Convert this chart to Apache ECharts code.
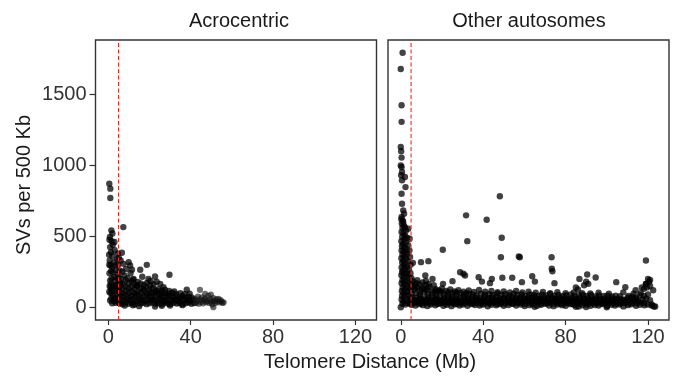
<!DOCTYPE html>
<html>
<head>
<meta charset="utf-8">
<script src="https://cdn.jsdelivr.net/npm/echarts@6/dist/echarts.min.js"></script>
<style>html,body{margin:0;padding:0;background:#fff}#c{width:674px;height:377px}</style>
</head>
<body>
<div id="c"></div>
<script>
// ---------- data ----------
const panelTitles = ["Acrocentric", "Other autosomes"];
const xTicks = [0, 40, 80, 120];
const yTicks = [0, 500, 1000, 1500];
const cutoffMb = 5;

// Acrocentric: [telomere distance (Mb), SVs per 500 Kb]
const acroStreak = [[0.5,871],[1.0,836],[1.0,770],[1.5,542],[0.8,495],[0.6,476],[1.6,466],[2.2,440],[0.9,424],[1.3,388],[3.1,402],[0.4,370],[2.0,362],[4.6,380],[0.7,330],[2.7,318],[1.1,294],[1.9,282],[0.5,300],[3.4,296],[4.3,340],[1.4,255],[2.3,246],[0.6,240],[3.7,262],[4.8,300],[2.9,214],[1.6,204],[0.9,188],[3.3,190],[4.5,230],[1.3,165],[2.4,150],[0.7,150],[3.7,158],[4.9,190],[1.7,124],[2.9,112],[1.1,100],[4.0,120],[2.2,84],[0.5,110],[1.5,64],[3.1,66],[4.4,82],[2.6,44],[1.9,28],[3.6,32],[4.8,46],[0.9,48],[4.2,150],[5.2,120],[5.5,260],[5.0,210],[5.8,160],[2.0,520],[3.0,460],[1.2,140],[5.1,350],[4.9,60],[5.3,30]];
const acroCloud = [[5.5,28],[6.9,22],[8.4,33],[9.8,25],[11.3,30],[12.8,20],[14.2,34],[15.7,26],[17.1,31],[18.6,22],[20.0,29],[21.5,35],[23.0,24],[24.4,30],[25.9,21],[27.3,33],[28.8,27],[30.2,23],[31.7,32],[33.2,26],[34.6,30],[36.1,22],[37.5,28],[39.0,33],[40.4,25],[41.8,30],
[6.2,52],[7.6,47],[9.1,58],[10.5,50],[12.0,55],[13.5,46],[14.9,60],[16.4,51],[17.8,45],[19.3,57],[20.7,49],[22.2,54],[23.7,46],[25.1,59],[26.6,50],[28.0,44],[29.5,56],[31.0,48],[32.4,53],[33.9,45],[35.3,58],[36.8,49],[38.2,52],[39.7,46],[41.1,55],
[5.4,80],[6.9,74],[8.3,85],[9.8,72],[11.2,82],[12.7,76],[14.1,88],[15.6,70],[17.1,79],[18.5,84],[20.0,73],[21.4,81],[22.9,75],[24.4,86],[25.8,71],[27.3,78],[28.7,74],[30.2,82],[31.6,70],[33.1,77],[34.6,72],[36.0,80],[37.5,68],[39.0,75],[40.5,70],
[5.8,108],[7.2,100],[8.7,115],[10.1,104],[11.6,112],[13.1,98],[14.5,110],[16.0,102],[17.4,116],[18.9,97],[20.4,106],[21.8,100],[23.3,112],[24.8,96],[26.2,104],[27.7,98],[29.2,95],[31.0,102],[33.0,94],[35.0,99],[37.0,92],[39.5,96],
[5.3,140],[6.8,132],[8.2,148],[9.7,135],[11.1,145],[12.6,130],[14.0,150],[15.5,136],[17.0,128],[18.4,142],[19.9,125],[21.4,134],[22.9,120],[24.3,128],[25.8,118],[27.5,124],[29.5,115],[32.0,112],
[5.6,175],[7.1,165],[8.5,190],[10.0,170],[11.4,182],[12.9,160],[14.3,178],[15.8,168],[17.3,158],[18.8,172],[20.4,155],[22.0,162],[6.2,200],[9.3,205],[12.0,195],[7.8,225],[10.8,240],
[8.0,12],[15.0,8],[22.7,5],[30.0,12],[36.0,15],[12.0,14],[26.0,10]];
const acroUpper = [[7.3,565],[6.6,384],[9.9,318],[10.6,294],[15.5,264],[18.7,299],[29.7,229],[22.7,217],[19.5,200],[12.3,200],[13.9,153],[25.2,165],[26.8,141],[38.1,123],[7.4,306],[8.6,270],[6.0,330],[6.8,250],[16.5,215],[20.5,185],[23.5,180],[11.5,265]];
const acroTail = [[42.0,60],[42.5,30],[43.0,45],[43.5,75],[44.0,25],[44.5,55],[45.0,38],[45.5,70],[46.0,28],[46.5,50],[47.0,62],[47.5,35],[48.0,45],[48.5,80],[49.0,30],[49.5,55],[50.0,40],[50.5,20],[51.0,65],[51.5,45],[52.0,30],[52.5,55],[53.0,40],[53.5,60],[54.0,35],[54.5,50],[55.0,40],[55.5,30],[56.0,35],[51.0,0],[49.8,90],[47.0,95],[44.5,123]];

// Other autosomes
const otherStreak = [[0.9,1794],[0.0,1679],[0.4,1424],[0.4,1307],[0.0,1130],[0.2,1100],[0.4,1055],[0.0,1000],[0.4,989],[0.6,953],[0.2,930],[0.6,895],[2.0,918],[2.3,847],[0.4,800],[0.6,730],[1.2,683],[1.6,659],[0.4,636],[1.2,600],[2.0,565],[3.6,554],[4.3,483],
[0.3,620],[1.0,610],[0.5,590],[1.5,575],[0.8,560],[2.5,540],[0.4,530],[1.3,520],[2.1,505],[0.7,495],[3.0,490],[1.6,478],[0.3,465],[2.4,455],[1.0,445],[3.5,440],[0.6,430],[1.9,420],[2.8,410],[0.4,400],[1.3,395],[4.2,400],[2.2,385],[3.1,375],[0.8,370],[1.7,360],[4.5,355],[0.3,345],[2.5,340],[1.2,330],[3.6,325],[0.7,315],[2.0,305],[4.8,300],[1.4,295],[0.4,280],[3.0,285],[2.2,270],[1.0,260],[4.0,265],[0.6,245],[1.8,240],[3.2,235],[4.7,240],[0.3,225],[2.6,220],[1.3,210],[4.1,205],[0.8,190],[2.0,185],[3.5,180],[0.4,170],[1.6,160],[4.6,165],[2.8,150],[0.9,140],[3.9,135],[1.9,125],[0.5,115],[3.0,110],[4.8,120],[1.2,100],[2.4,90],[0.6,80],[3.7,85],[1.7,70],[4.4,60],[0.4,55],[2.8,50],[1.3,40],[3.5,30],[0.8,25],[2.2,20],[4.6,25],[0.0,0]];
const otherBand = [[5.2,18],[7.1,12],[9.0,22],[10.8,15],[12.9,9],[14.6,20],[16.8,14],[18.5,24],[20.7,11],[22.4,17],[24.6,8],[26.3,21],[28.5,13],[30.1,19],[32.4,10],[34.2,23],[36.0,16],[38.3,12],[40.1,20],[42.2,7],[44.0,18],[46.3,14],[48.1,22],[50.0,10],[52.3,16],[54.1,25],[56.0,12],[58.2,19],[60.1,9],[62.4,15],[64.0,21],[66.2,11],[68.1,17],[70.3,24],[72.0,13],[74.2,8],[76.1,20],[78.3,15],[80.0,11],[82.2,22],[84.1,18],[86.3,5],[88.0,14],[90.2,20],[92.1,10],[94.3,16],[96.0,12],[98.2,23],[100.1,9],[102.3,17],[104.0,13],[106.2,19],[108.1,6],[110.3,15],[112.0,21],[114.2,11],[116.1,18],[118.3,14],[120.0,20],[121.8,12],[123.5,5],
[6.1,29],[8.0,33],[10.0,26],[11.9,31],[13.8,28],[15.8,34],[17.7,25],[19.6,30],[21.6,27],[23.5,33],[25.4,29],[27.4,24],[29.3,32],[31.2,28],[33.2,34],[35.1,26],[37.0,30],[39.0,25],[40.9,33],[42.8,28],[44.8,31],[46.7,24],[48.6,30],[50.6,27],[52.5,33],[54.4,26],[56.4,29],[58.3,32],[60.2,25],[62.2,30],[64.1,27],[66.0,33],[68.0,24],[69.9,29],[71.8,31],[73.8,26],[75.7,30],[77.6,24],[79.6,28],[81.5,32],[83.4,25],[85.4,29],[87.3,27],[89.2,31],[91.2,24],[93.1,28],[95.0,30],[97.0,25],[98.9,29],[100.8,27],[102.8,31],[104.7,24],[106.6,28],[108.6,30],[110.5,26],[112.4,32],[114.4,28],[116.3,34],[118.2,30],
[6.0,42],[8.1,38],[9.9,48],[12.0,35],[13.8,45],[15.9,40],[17.7,50],[19.8,37],[21.6,44],[23.7,39],[25.5,47],[27.6,41],[29.4,36],[31.5,46],[33.3,43],[35.4,38],[37.2,49],[39.3,40],[41.1,45],[43.2,36],[45.0,42],[47.1,48],[48.9,39],[51.0,44],[52.8,37],[54.9,46],[56.7,41],[58.8,35],[60.6,47],[62.7,40],[64.5,43],[66.6,38],[68.4,45],[70.5,41],[72.3,36],[74.4,44],[76.2,39],[78.3,42],[80.1,37],[82.2,45],[84.0,40],[86.1,34],[87.9,43],[90.0,38],[91.8,46],[93.9,40],[95.7,36],[97.8,42],[99.6,39],[101.7,44],[103.5,35],[105.6,41],[107.4,38],[109.5,45],[111.3,40],[113.4,48],[115.2,43],[117.3,55],[119.1,60],[121.0,50],
[5.0,55],[7.0,52],[8.9,57],[10.9,50],[12.8,56],[14.8,53],[16.7,58],[18.7,51],[20.6,55],[22.6,49],[24.5,57],[26.5,52],[28.4,55],[30.4,50],[32.3,58],[34.3,53],[36.2,56],[38.2,49],[40.1,54],[42.1,57],[44.0,51],[46.0,55],[47.9,52],[49.9,58],[51.8,50],[53.8,54],[55.7,52],[57.7,57],[59.6,49],[61.6,55],[63.5,51],[65.5,56],[67.4,50],[69.4,54],[71.3,52],[73.3,57],[75.2,49],[77.2,53],[79.1,51],[81.1,55],[83.0,48],[85.0,52],[86.9,50],[88.9,54],[90.8,48],[92.8,52],[94.7,50],[96.7,53],[98.6,47],[100.6,51],[102.5,49],[104.5,52],[106.4,48],[108.4,51],[110.3,55],[112.3,60],[114.2,58],
[5.6,70],[7.6,65],[9.5,75],[11.5,62],[13.4,72],[15.3,68],[17.3,74],[19.2,63],[21.1,70],[23.1,66],[25.0,73],[27.0,61],[28.9,69],[30.9,75],[32.8,64],[34.7,71],[36.7,67],[38.6,60],[40.5,72],[42.5,65],[44.4,70],[46.4,74],[48.3,62],[50.2,68],[52.2,66],[54.1,71],[56.1,63],[58.0,69],[59.9,60],[61.9,67],[63.8,72],[65.7,64],[67.7,58],[69.6,70],[71.5,62],[73.5,66],[75.4,60],[77.4,68],[79.3,63],[81.3,57],[83.2,65],[85.1,61],[87.1,67],[89.0,59],[90.9,64],[92.9,56],[94.8,62],[96.8,58],[98.7,60],[100.6,55],[102.6,63],[104.5,57],[106.5,61],[108.4,54],[110.3,68],[112.3,75],[114.2,70],[116.2,85],[118.1,80],[120.0,90],
[5.3,95],[7.4,100],[9.2,90],[11.3,105],[13.1,92],[15.2,98],[17.0,88],[19.1,102],[21.0,94],[22.9,86],[25.1,97],[26.9,91],[29.0,99],[30.8,87],[33.0,95],[34.9,90],[36.8,84],[38.9,96],[40.8,89],[42.9,93],[44.7,85],[46.9,98],[48.7,88],[50.8,92],[52.7,83],[54.8,94],[56.6,87],[58.7,90],[60.6,82],[62.7,91],[64.6,86],[66.7,80],[68.5,89],[70.6,84],[72.5,92],[74.6,81],[76.5,87],[78.6,79],[80.4,85],[82.6,90],[84.4,78],[86.5,84],[88.4,88],[90.5,80],[92.4,86],[94.5,77],[96.3,83],[98.5,79],[100.3,82],[102.5,76],[104.3,81],[106.4,78],[110.5,80],[113.0,95],[116.5,100],
[5.5,150],[6.8,125],[8.2,140],[9.6,115],[11.0,135],[12.5,120],[14.0,145],[15.5,112],[17.0,128],[18.5,118],[20.0,132],[22.0,115],[24.0,125],[26.0,112],[28.0,120],[30.5,110],[33.0,118],[35.5,108],[38.0,122],[41.0,110],[44.0,115],[47.0,106],[50.0,112],[53.0,105],[56.0,115],[59.0,104],[62.0,110],[65.5,102],[69.0,108],[72.5,100],[76.0,106],[80.0,100],[84.0,104],[88.0,100],[92.0,98],[96.0,102],[101.0,96],[108.0,105],[114.0,120],[117.0,140],[119.0,165],[120.5,180],[118.0,130],[121.0,150],[122.5,120],
[5.8,185],[7.5,170],[9.0,160],[10.5,175],[6.5,160],[8.0,190],[11.8,158],[13.5,165],[12.2,185],[16.0,155],[5.2,205],[7.0,140],[10.2,128],[13.0,132],[16.8,118],[19.5,112],[23.0,106],[27.0,104],[31.8,100]];
const otherOutliers = [[48.1,782],[31.7,648],[41.7,617],[32.3,466],[49.0,490],[20.4,405],[48.6,353],[57.3,358],[57.8,353],[73.2,353],[73.3,271],[73.6,254],[119.0,330],[5.9,313],[9.8,318],[13.4,325],[28.8,247],[31.2,224],[30.4,236],[11.9,224],[15.4,200],[37.8,212],[39.4,181],[49.3,208],[54.1,208],[63.8,219],[65.1,181],[90.5,231],[94.6,210],[86.7,200],[104.6,177],[109.0,141],[58.8,177],[44.2,200],[25.1,184],[20.5,165],[43.3,170],[120.0,200],[121.0,193],[119.0,165],[119.5,140],[74.6,170],[90.0,180],[91.0,165],[89.0,155],[85.0,140],[86.0,125],[100.0,0],[85.0,3],[90.0,2],[65.0,4],[122.9,5],[121.8,20]];

// ---------- chart ----------
const FONT = "'Liberation Sans', Arial, Helvetica, sans-serif";
const chart = echarts.init(document.getElementById('c'), null, {renderer: 'canvas'});
const xMin = -6.2, xMax = 130.2, yMin = -89.7, yMax = 1883.7;
const panelLeft = [95.5, 388];
const panelW = 281, panelTop = 40, panelH = 280;
const RED = '#ff2020';

function xAxisFor(i) {
  return {
    type: 'value', gridIndex: i, min: xMin, max: xMax, position: 'bottom',
    splitLine: {show: false}, axisLine: {show: false, onZero: false},
    axisTick: {show: true, customValues: xTicks, length: 5, lineStyle: {color: '#333', width: 1.2}},
    axisLabel: {customValues: xTicks, fontSize: 20, color: '#333', fontFamily: FONT, margin: 7,
      formatter: v => String(v)}
  };
}
function yAxisFor(i) {
  return {
    type: 'value', gridIndex: i, min: yMin, max: yMax, position: 'left',
    splitLine: {show: false}, axisLine: {show: false, onZero: false},
    axisTick: {show: i === 0, customValues: yTicks, length: 6, lineStyle: {color: '#333', width: 1.2}},
    axisLabel: {show: i === 0, customValues: yTicks, fontSize: 20, color: '#333', fontFamily: FONT, margin: 9,
      formatter: v => String(v)}
  };
}
const dotStyle = {color: '#000', opacity: 0.74};
function cutoffSeries(i) {
  return {
    type: 'line', xAxisIndex: i, yAxisIndex: i, z: 10, silent: true, symbol: 'none',
    lineStyle: {color: RED, type: [4, 2.5], width: 1.1},
    data: [[cutoffMb, yMin], [cutoffMb, yMax]]
  };
}

chart.setOption({
  animation: false,
  grid: [0, 1].map(i => ({left: panelLeft[i], top: panelTop, width: panelW, height: panelH,
    show: true, borderColor: '#333', borderWidth: 1.4, backgroundColor: '#fff'})),
  xAxis: [xAxisFor(0), xAxisFor(1)],
  yAxis: [yAxisFor(0), yAxisFor(1)],
  series: [
    {type: 'scatter', xAxisIndex: 0, yAxisIndex: 0, symbolSize: 6.4, itemStyle: dotStyle,
      data: acroStreak.concat(acroCloud, acroUpper)},
    {type: 'scatter', xAxisIndex: 0, yAxisIndex: 0, symbolSize: 6.2, itemStyle: {color: '#111', opacity: 0.62},
      data: acroTail},
    {type: 'scatter', xAxisIndex: 1, yAxisIndex: 1, symbolSize: 6.4, itemStyle: dotStyle,
      data: otherStreak.concat(otherBand, otherOutliers)},
    cutoffSeries(0), cutoffSeries(1)
  ],
  graphic: [
    {type: 'text', style: {text: panelTitles[0], x: 239, y: 21, textAlign: 'center', textVerticalAlign: 'middle', font: '20px ' + FONT, fill: '#1a1a1a'}},
    {type: 'text', style: {text: panelTitles[1], x: 529, y: 21, textAlign: 'center', textVerticalAlign: 'middle', font: '20px ' + FONT, fill: '#1a1a1a'}},
    {type: 'text', style: {text: 'Telomere Distance (Mb)', x: 370, y: 362, textAlign: 'center', textVerticalAlign: 'middle', font: '20px ' + FONT, fill: '#1a1a1a'}},
    {type: 'text', x: 24, y: 185, rotation: Math.PI / 2, style: {text: 'SVs per 500 Kb', x: 0, y: 0, textAlign: 'center', textVerticalAlign: 'middle', font: '20px ' + FONT, fill: '#1a1a1a'}}
  ]
});
</script>
</body>
</html>
